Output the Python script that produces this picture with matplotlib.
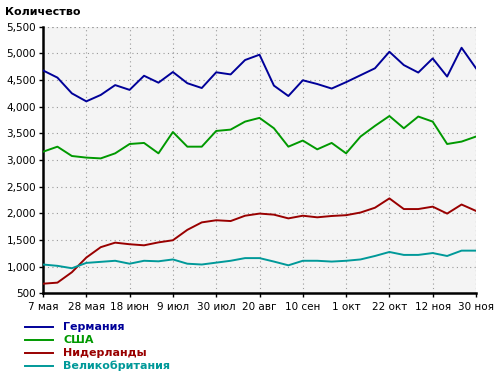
import matplotlib
matplotlib.use("Agg")
import matplotlib.pyplot as plt
from matplotlib.lines import Line2D

tick_labels = ["7 мая", "28 мая", "18 июн", "9 июл", "30 июл", "20 авг",
               "10 сен", "1 окт", "22 окт", "12 ноя", "30 ноя"]

germany = [4680, 4545, 4250, 4100, 4220, 4405, 4315, 4580, 4450, 4650, 4440,
           4350, 4645, 4605, 4875, 4975, 4395, 4200, 4495, 4425, 4340,
           4460, 4590, 4720, 5030, 4780, 4640, 4905, 4565, 5105, 4720]
usa = [3155, 3250, 3075, 3045, 3030, 3125, 3300, 3320, 3125, 3525, 3250,
       3250, 3545, 3570, 3720, 3790, 3595, 3250, 3365, 3200, 3320,
       3125, 3440, 3640, 3825, 3595, 3815, 3720, 3300, 3345, 3440]
netherlands = [680, 700, 895, 1170, 1365, 1450, 1420, 1400, 1455, 1495, 1690,
               1830, 1870, 1855, 1955, 1995, 1975, 1905, 1955, 1925, 1950,
               1965, 2015, 2105, 2280, 2080, 2080, 2125, 1995, 2165, 2045]
uk = [1040, 1015, 970, 1070, 1090, 1110, 1055, 1110, 1100, 1135, 1055,
      1040, 1075, 1110, 1160, 1160, 1095, 1025, 1110, 1110, 1095,
      1110, 1135, 1200, 1275, 1220, 1220, 1255, 1200, 1300, 1300]

series_names = ["Германия", "США", "Нидерланды", "Великобритания"]
colors = ["#000099", "#009900", "#990000", "#009999"]
series = [germany, usa, netherlands, uk]

fig = plt.figure(figsize=(5, 3.76), dpi=100)
ax = fig.add_axes([43/500, 1 - 293.3/376, 433/500, (293.3 - 26.7)/376])
ax.set_facecolor("#f4f4f4")

x = list(range(len(germany)))
for s, c in zip(series, colors):
    ax.plot(x, s, color=c, lw=1.4, zorder=3)

ax.set_xlim(0, 30)
ax.set_ylim(500, 5500)
ax.set_xticks(range(0, 31, 3))
ax.set_xticklabels(tick_labels)
ax.set_yticks(range(500, 5501, 500))
ax.set_yticklabels([f"{v:,}" for v in range(500, 5501, 500)])
ax.tick_params(axis="both", labelsize=7.5, length=3, width=1, colors="black", pad=2)
ax.tick_params(axis="x", pad=3)

grid_kw = dict(color="#999999", linestyle=(0, (1, 3)), lw=0.8, zorder=1)
ax.grid(True, **grid_kw)
for sp in ["top", "right"]:
    ax.spines[sp].set_visible(False)
ax.spines["left"].set_linewidth(1.8)
ax.spines["bottom"].set_linewidth(1.8)
ax.axvline(30, **grid_kw)
ax.axhline(5500, **grid_kw)

fig.text(5/500, 1 - 12/376, "Количество", fontsize=8, fontweight="bold",
         va="center", ha="left")

for i, (name, c) in enumerate(zip(series_names, colors)):
    yy = 1 - (327 + 13 * i) / 376
    fig.add_artist(Line2D([25/500, 53/500], [yy, yy], color=c, lw=1.4,
                          transform=fig.transFigure))
    fig.text(63/500, yy, name, color=c, fontsize=8, fontweight="bold",
             va="center", ha="left")

fig.savefig("out.png", dpi=100)
